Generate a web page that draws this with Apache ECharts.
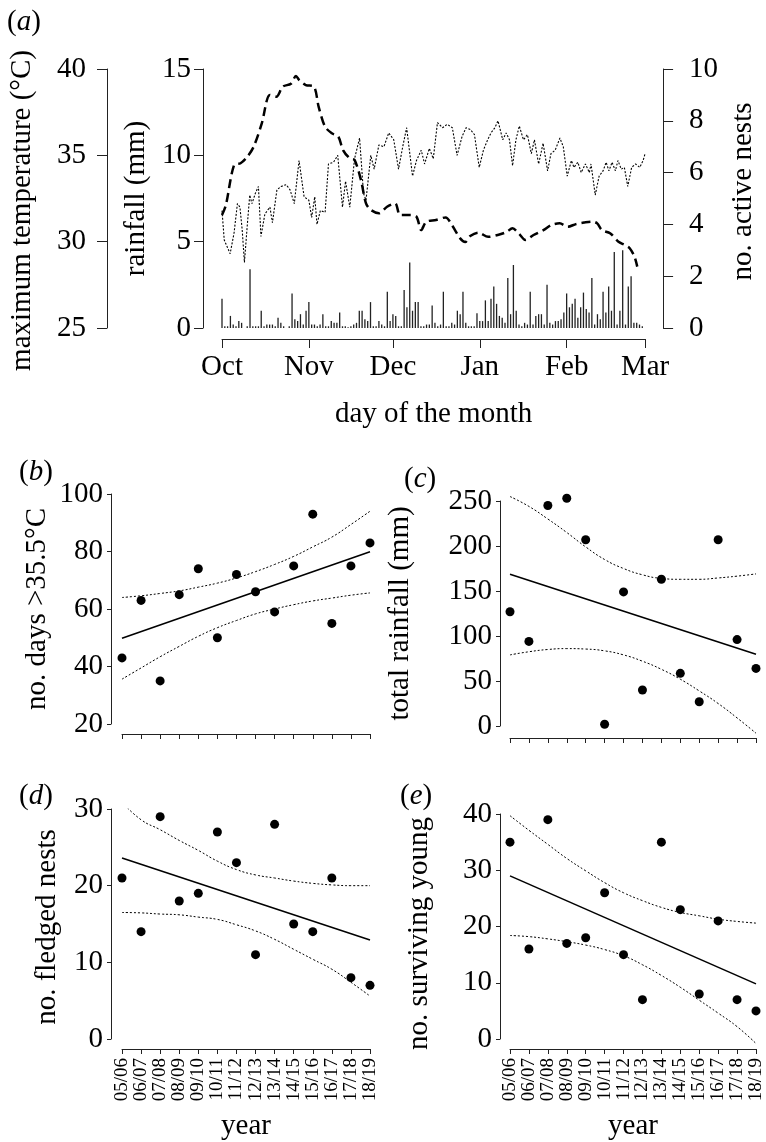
<!DOCTYPE html>
<html><head><meta charset="utf-8">
<script src="https://cdn.jsdelivr.net/npm/echarts@6/dist/echarts.min.js"></script>
<style>html,body{margin:0;padding:0;background:#fff}#c{width:766px;height:1142px}</style>
</head><body><div id="c"></div>
<script>
// ---------- panel (a) data ----------
const monthLabels = ['Oct','Nov','Dec','Jan','Feb','Mar'];
const monthStartDays = [0,31,61,92,123,151];
// [day since 1 Oct, max temperature °C]
const maxTemp = [[0,31.8],[0.8,30.1],[2.9,29.3],[4.3,30.5],[5.5,32.2],[6.4,32.0],[7.2,30.7],[8.0,28.8],[9.0,30.9],[9.9,32.7],[10.7,32.2],[11.9,32.8],[13.0,33.2],[13.9,30.3],[15.3,31.6],[17.1,32.0],[18.0,31.1],[19.6,33.0],[21.1,33.2],[22.9,33.3],[24.3,33.0],[25.8,32.2],[27.5,34.7],[29.3,32.6],[31.0,32.4],[32.0,31.4],[33.1,32.6],[33.9,31.0],[35.1,31.8],[36.8,31.7],[38.0,34.5],[39.8,34.6],[41.3,35.0],[43.0,32.0],[44.1,33.5],[45.6,32.0],[47.3,34.8],[49.1,36.0],[50.5,32.8],[51.4,32.4],[53.1,35.0],[54.3,34.2],[56.0,35.6],[57.8,35.5],[59.5,36.3],[61.3,35.9],[63.0,34.2],[64.5,35.5],[65.9,36.6],[68.0,33.8],[69.4,34.7],[71.1,35.3],[72.3,34.5],[74.0,35.4],[75.4,34.8],[76.9,36.9],[78.7,36.6],[80.4,36.8],[82.2,36.6],[83.9,35.0],[85.7,36.1],[87.1,36.6],[88.6,36.5],[90.1,36.2],[91.8,34.3],[93.3,35.3],[94.8,35.9],[96.0,36.3],[97.4,36.6],[98.5,37.0],[100.2,35.9],[101.4,36.3],[102.6,35.9],[103.7,34.4],[104.9,35.9],[106.1,36.7],[107.6,35.9],[109.0,36.2],[110.4,35.1],[111.5,35.9],[113.0,34.5],[114.6,35.7],[116.2,34.1],[117.4,35.1],[118.9,35.3],[120.6,36.0],[121.8,35.5],[123.2,33.8],[124.7,34.7],[125.6,34.3],[127.0,34.6],[128.2,34.0],[129.7,34.5],[131.1,34.0],[131.7,34.5],[133.2,32.7],[134.6,33.8],[136.0,34.1],[137.1,34.6],[138.1,34.1],[139.2,34.6],[140.4,34.1],[141.3,34.7],[142.5,34.2],[143.6,34.3],[144.8,33.2],[146.2,34.3],[147.6,34.5],[149.1,34.3],[150.3,34.7],[151,35.1]];
// daily rainfall (mm), day 0 = 1 Oct
const rainfall = [1.7,0.1,0.1,0.7,0.2,0.1,0.4,0.3,0,0.1,3.4,0.1,0.1,0.1,1.0,0.1,0.2,0.2,0.2,0.1,0.6,0.3,0.1,0,0.1,2.0,0.5,0.4,0.8,0.2,1.0,1.5,0.2,0.2,0.1,0.2,0.8,0.1,0.1,0.4,0.3,0.3,0.9,0.1,0.1,0.05,0.1,0.2,0.3,1.0,1.0,0.5,0.4,1.5,0.1,0.1,0.4,0.2,0.1,2.1,0.4,0.8,0.7,0.1,0.1,2.2,1.2,3.8,1.0,1.5,1.5,0.1,0.1,0.2,0.2,1.3,0.3,0.1,0.2,2.1,0.1,0.1,0.3,0.2,1.0,0.8,2.1,0.3,0.1,0.1,0.1,0.85,0.4,0.4,1.6,0.4,1.7,2.4,1.4,0.7,0.6,0.3,2.9,0.8,3.65,1.0,0.2,0.1,0.3,0.2,2.1,0.2,0.7,0.8,0.8,0.2,2.5,0.3,0.2,0.4,0.4,0.5,0.9,2.0,1.2,1.4,1.7,0.6,1.2,2.05,1.1,0.9,2.9,0.2,0.8,0.5,2.1,0.9,2.4,1.0,4.4,0.2,1.0,4.5,0.2,2.4,3.0,0.3,0.3,0.2,0.1];
// [day, no. active nests]
const activeNests = [[0,4.36],[1.4,4.75],[4.3,6.29],[6.6,6.36],[9,6.61],[11.3,7.0],[14.2,7.9],[17.1,9.0],[19.4,8.93],[21.7,9.32],[24.6,9.43],[26.4,9.73],[27.5,9.58],[29.9,9.38],[32.8,9.32],[34.5,8.54],[36.8,7.77],[39.2,7.52],[41.5,7.39],[43.2,6.87],[45.6,6.55],[47.3,6.49],[49.6,5.71],[51.4,4.81],[53.1,4.56],[56,4.43],[58.9,4.68],[61.8,4.81],[63.6,4.36],[67,4.36],[69.4,4.30],[71.1,3.78],[72.9,4.1],[76.4,4.17],[79.8,4.27],[82.2,3.95],[85,3.46],[86.8,3.32],[88.6,3.55],[91.5,3.68],[95,3.52],[98.4,3.59],[101.4,3.70],[103.7,3.85],[106,3.64],[108.3,3.40],[111.2,3.59],[114.7,3.78],[117.6,3.98],[120.5,4.04],[123.4,3.91],[126.3,4.01],[129.2,4.07],[132.1,4.11],[133.9,4.04],[135.6,3.78],[138.5,3.66],[141.5,3.33],[143.8,3.20],[145.5,3.08],[147.2,2.76],[148.2,2.37]];

// ---------- panels (b)-(e) data ----------
const yearLabels = ['05/06','06/07','07/08','08/09','09/10','10/11','11/12','12/13','13/14','14/15','15/16','16/17','17/18','18/19'];
const hotDays = [43,63,35,65,74,50,72,66,59,75,93,55,75,83];
const hotDaysFit = [49.8,79.9];
const hotDaysUpper = [64,64.6,65.4,66.3,67.6,69,70.8,73,75.5,78.3,81.6,85,89.4,94];
const hotDaysLower = [35.6,39.5,43.4,47,50.5,53.5,56,58.3,60,61.5,62.8,63.8,64.8,65.6];
const totalRain = [127,94,245,253,207,2,149,40,163,58.5,27,207,96,64];
const totalRainFit = [168.5,79.6];
const totalRainUpper = [255,244,230,215,199,185,175,168,164,163,163,164.5,166.5,169];
const totalRainLower = [79,82.5,85,86,85.5,83.5,79,72,63,52,39,25,9,-8];
const fledged = [21,14,29,18,19,27,23,11,28,15,14,21,8,7];
const fledgedFit = [23.6,12.9];
const fledgedUpper = [30.9,28.6,27.3,25.9,24.6,23.2,22.1,21.4,21.0,20.6,20.3,20.1,20.0,20.0];
const fledgedLower = [16.5,16.45,16.3,16.2,15.9,15.6,14.9,14.1,13.0,11.7,10.4,9.1,7.4,5.6];
const surviving = [35,16,39,17,18,26,15,7,35,23,8,21,7,5];
const survivingFit = [29,9.8];
const survivingUpper = [39.7,37.1,34.6,32.1,29.9,27.8,26,24.6,23.4,22.5,21.9,21.3,20.9,20.6];
const survivingLower = [18.4,18.2,17.8,17.3,16.7,15.9,14.8,13.2,11.3,9.2,6.9,4.6,2.2,-0.8];

// ---------- build ----------
const FONT = 'Liberation Serif';
const INK = '#000';
const LINE = '#222';
const FS = 29;
const txt = (size) => ({fontFamily: FONT, fontSize: size, color: INK, fontWeight: 'normal'});
const axLine = {show: true, onZero: false, lineStyle: {color: LINE, width: 1}};

const grids = [], xAxes = [], yAxes = [], series = [], titles = [];

function panelTitle(letter, left, top) {
  titles.push({
    text: '{p|(}{i|' + letter + '}{p|)}', left: left, top: top,
    textStyle: {fontWeight: 'normal', rich: {p: txt(FS), i: Object.assign(txt(FS), {fontStyle: 'italic'})}}
  });
}

// panel (a)
grids.push({left: 221, right: 112, top: 69, bottom: 814});
xAxes.push({
  type: 'value', gridIndex: 0, min: 0, max: 151, position: 'bottom', offset: 11,
  axisLine: axLine, splitLine: {show: false},
  axisTick: {show: true, length: 9, customValues: monthStartDays, lineStyle: {color: LINE}},
  axisLabel: Object.assign(txt(FS), {customValues: monthStartDays, margin: 14,
    formatter: v => monthLabels[monthStartDays.indexOf(v)]}),
  name: 'day of the month', nameLocation: 'middle', nameGap: 61, nameTextStyle: txt(FS)
});
yAxes.push({
  type: 'value', gridIndex: 0, position: 'left', offset: 115, min: 25, max: 40, interval: 5,
  axisLine: axLine, splitLine: {show: false},
  axisTick: {show: true, length: 10, lineStyle: {color: LINE}},
  axisLabel: Object.assign(txt(FS), {margin: 21}),
  name: 'maximum temperature (°C)', nameLocation: 'middle', nameRotate: 90, nameGap: 70,
  nameTextStyle: Object.assign(txt(FS), {padding: [0, 24, 0, 0]})
});
yAxes.push({
  type: 'value', gridIndex: 0, position: 'left', offset: 19, min: 0, max: 15, interval: 5,
  axisLine: axLine, splitLine: {show: false},
  axisTick: {show: true, length: 9, lineStyle: {color: LINE}},
  axisLabel: Object.assign(txt(FS), {margin: 12}),
  name: 'rainfall (mm)', nameLocation: 'middle', nameRotate: 90, nameGap: 46, nameTextStyle: txt(FS)
});
yAxes.push({
  type: 'value', gridIndex: 0, position: 'right', offset: 18, min: 0, max: 10, interval: 2,
  axisLine: axLine, splitLine: {show: false},
  axisTick: {show: true, length: 10, lineStyle: {color: LINE}},
  axisLabel: Object.assign(txt(FS), {margin: 26}),
  name: 'no. active nests', nameLocation: 'middle', nameRotate: 90, nameGap: 60,
  nameTextStyle: Object.assign(txt(FS), {padding: [0, 0, 0, 14]})
});
series.push({
  type: 'bar', xAxisIndex: 0, yAxisIndex: 1, barWidth: 1.3,
  data: rainfall.map((v, i) => [i, v]), itemStyle: {color: LINE}, silent: true
});
series.push({
  type: 'line', xAxisIndex: 0, yAxisIndex: 0, data: maxTemp, showSymbol: false,
  lineStyle: {color: INK, width: 1.1, type: [2, 1.6]}, silent: true
});
series.push({
  type: 'line', xAxisIndex: 0, yAxisIndex: 2, data: activeNests, showSymbol: false, smooth: 0.3,
  lineStyle: {color: INK, width: 2.5, type: [9, 5]}, silent: true
});
panelTitle('a', 2, 3);

// panels (b)-(e)
function scatterPanel(cfg) {
  const gi = grids.length;
  grids.push(cfg.grid);
  xAxes.push({
    type: 'value', gridIndex: gi, min: 0, max: 13, interval: 1, position: 'bottom', offset: cfg.xOffset,
    axisLine: axLine, splitLine: {show: false},
    axisTick: {show: true, length: 5, lineStyle: {color: LINE}},
    axisLabel: Object.assign(txt(19), {show: cfg.showYears, rotate: 90, margin: 9,
      formatter: v => yearLabels[v]}),
    name: cfg.showYears ? 'year' : '', nameLocation: 'middle', nameGap: 63, nameTextStyle: txt(FS)
  });
  yAxes.push({
    type: 'value', gridIndex: gi, position: 'left', offset: cfg.yOffset,
    min: cfg.yMin, max: cfg.yMax, interval: cfg.interval,
    axisLine: axLine, splitLine: {show: false},
    axisTick: {show: true, length: 4, lineStyle: {color: LINE}},
    axisLabel: Object.assign(txt(FS), {margin: 8}),
    name: cfg.yName, nameLocation: 'middle', nameRotate: 90, nameGap: cfg.nameGap,
    nameTextStyle: Object.assign(txt(FS), {padding: cfg.namePad || 0})
  });
  const ai = {xAxisIndex: gi, yAxisIndex: yAxes.length - 1};
  series.push(Object.assign({
    type: 'line', data: cfg.upper.map((v, i) => [i, v]), smooth: true, showSymbol: false,
    clip: !!cfg.clipUpper, lineStyle: {color: INK, width: 1, type: [2, 2]}, silent: true
  }, ai));
  series.push(Object.assign({
    type: 'line', data: cfg.lower.map((v, i) => [i, v]), smooth: true, showSymbol: false,
    clip: false, lineStyle: {color: INK, width: 1, type: [2, 2]}, silent: true
  }, ai));
  series.push(Object.assign({
    type: 'line', data: [[0, cfg.fit[0]], [13, cfg.fit[1]]], showSymbol: false,
    clip: false, lineStyle: {color: INK, width: 1.6}, silent: true
  }, ai));
  series.push(Object.assign({
    type: 'scatter', data: cfg.points.map((v, i) => [i, v]), symbolSize: 9, clip: false,
    itemStyle: {color: INK, opacity: 1}, silent: true
  }, ai));
  panelTitle(cfg.letter, cfg.titlePos[0], cfg.titlePos[1]);
}

scatterPanel({letter: 'b', titlePos: [14, 453], grid: {left: 122, right: 396, top: 494, bottom: 418},
  xOffset: 10, yOffset: 11, yMin: 20, yMax: 100, interval: 20, yName: 'no. days >35.5°C', nameGap: 59,
  showYears: false, points: hotDays, fit: hotDaysFit, upper: hotDaysUpper, lower: hotDaysLower});
scatterPanel({letter: 'c', titlePos: [399, 460], grid: {left: 510, right: 10, top: 501, bottom: 416},
  xOffset: 12, yOffset: 10, yMin: 0, yMax: 250, interval: 50, yName: 'total rainfall (mm)', nameGap: 85,
  showYears: false, points: totalRain, fit: totalRainFit, upper: totalRainUpper, lower: totalRainLower});
scatterPanel({letter: 'd', titlePos: [14, 777], grid: {left: 122, right: 396, top: 809, bottom: 102},
  xOffset: 10, yOffset: 11, yMin: 0, yMax: 30, interval: 10, yName: 'no. fledged nests', nameGap: 49,
  namePad: [0, 6, 0, 0],
  showYears: true, clipUpper: true, points: fledged, fit: fledgedFit, upper: fledgedUpper, lower: fledgedLower});
scatterPanel({letter: 'e', titlePos: [395, 777], grid: {left: 510, right: 10, top: 814, bottom: 101},
  xOffset: 10, yOffset: 10, yMin: 0, yMax: 40, interval: 10, yName: 'no. surviving young', nameGap: 66,
  namePad: [0, 14, 0, 0],
  showYears: true, points: surviving, fit: survivingFit, upper: survivingUpper, lower: survivingLower});

const chart = echarts.init(document.getElementById('c'), null, {renderer: 'canvas'});
chart.setOption({
  animation: false, backgroundColor: '#fff',
  title: titles, grid: grids, xAxis: xAxes, yAxis: yAxes, series: series
});
</script></body></html>
